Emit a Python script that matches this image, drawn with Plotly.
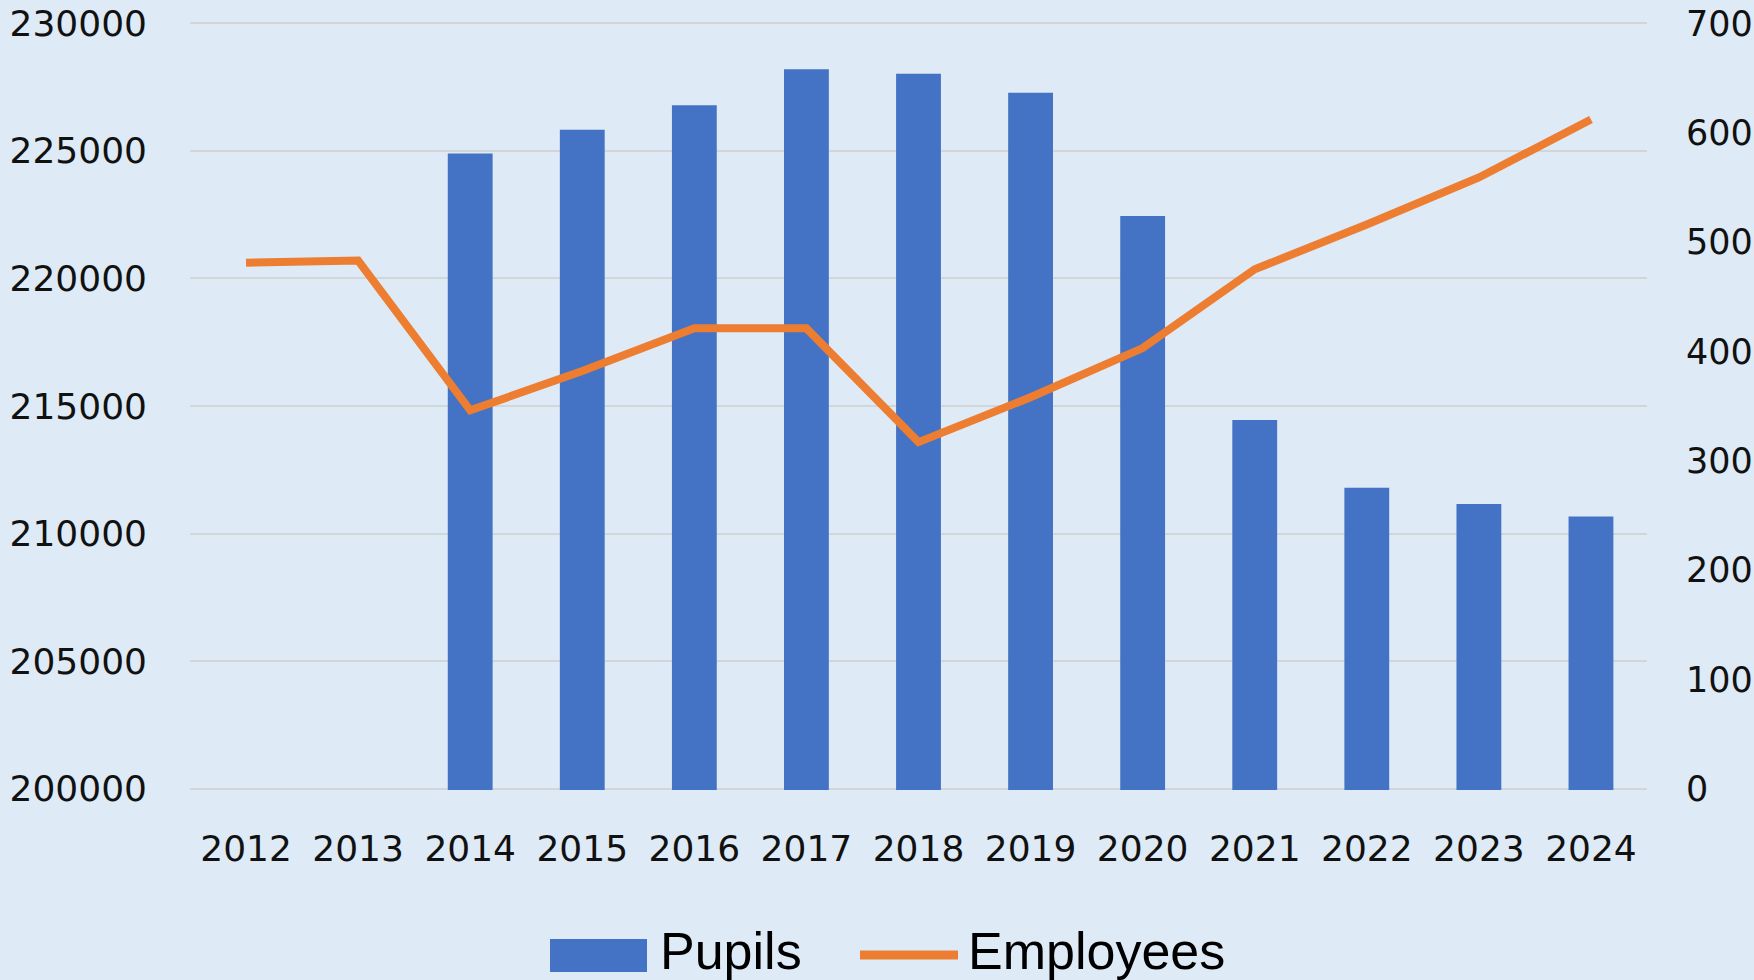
import plotly.graph_objects as go

years = ["2012", "2013", "2014", "2015", "2016", "2017", "2018",
         "2019", "2020", "2021", "2022", "2023", "2024"]
pupils = [None, None, 224900, 225830, 226790, 228200, 228020,
          227280, 222450, 214450, 211800, 211160, 210670]
employees = [481, 483, 346, 382, 421, 421, 317, 358, 403, 475, 516, 559, 612]

left_ticks = [200000, 205000, 210000, 215000, 220000, 225000, 230000]
right_ticks = [0, 100, 200, 300, 400, 500, 600, 700]

BG = "#DEEAF6"
BLUE = "#4472C4"
ORANGE = "#ED7D31"
GRID = "#D3D6D9"
TICKFONT = dict(family="DejaVu Sans", size=36, color="#111111")

W, H = 1754, 980
L, R, T, B = 190, 107, 22, 190
PW, PH = W - L - R, H - T - B


def px_x(x):
    return (x - L) / PW


def px_y(y):
    return (H - B - y) / PH


fig = go.Figure()
fig.add_trace(go.Bar(x=years, y=pupils, name="Pupils", marker_color=BLUE,
                     marker_line_width=0, showlegend=False))
fig.add_trace(go.Scatter(x=years, y=employees, name="Employees", yaxis="y2",
                         mode="lines", line=dict(color=ORANGE, width=8),
                         showlegend=False))

fig.update_layout(
    width=W, height=H,
    margin=dict(l=L, r=R, t=T, b=B, autoexpand=False),
    paper_bgcolor=BG, plot_bgcolor=BG,
    bargap=0.6,
    xaxis=dict(type="category", tickfont=TICKFONT, showgrid=False,
               showline=False, ticks="", ticklabelstandoff=34,
               automargin=False),
    yaxis=dict(range=[199950, 230050], tickvals=left_ticks,
               ticktext=[str(v) for v in left_ticks], tickfont=TICKFONT,
               showgrid=True, gridcolor=GRID, gridwidth=2, zeroline=False,
               showline=False, ticks="", ticklabelstandoff=42,
               automargin=False),
    yaxis2=dict(range=[-1.17, 701.17], tickvals=right_ticks,
                ticktext=[str(v) for v in right_ticks],
                tickfont=dict(family="DejaVu Sans", size=35, color="#111111"),
                overlaying="y", side="right", showgrid=False, zeroline=False,
                showline=False, ticks="", ticklabelstandoff=38,
                automargin=False),
    shapes=[
        dict(type="rect", xref="paper", yref="paper",
             x0=px_x(550), x1=px_x(647), y0=px_y(972), y1=px_y(939),
             fillcolor=BLUE, line_width=0),
        dict(type="line", xref="paper", yref="paper",
             x0=px_x(860), x1=px_x(958), y0=px_y(955), y1=px_y(955),
             line=dict(color=ORANGE, width=9)),
    ],
    annotations=[
        dict(text="Pupils", xref="paper", yref="paper", x=px_x(658),
             y=px_y(951), xanchor="left", yanchor="middle", showarrow=False,
             font=dict(family="Liberation Sans", size=52, color="#000000")),
        dict(text="Employees", xref="paper", yref="paper", x=px_x(966),
             y=px_y(951), xanchor="left", yanchor="middle", showarrow=False,
             font=dict(family="Liberation Sans", size=52, color="#000000")),
    ],
)

fig.write_html("out.html",
               config={"displayModeBar": False},
               post_script="document.body.style.margin='0';"
                           "document.body.style.overflow='hidden';")
